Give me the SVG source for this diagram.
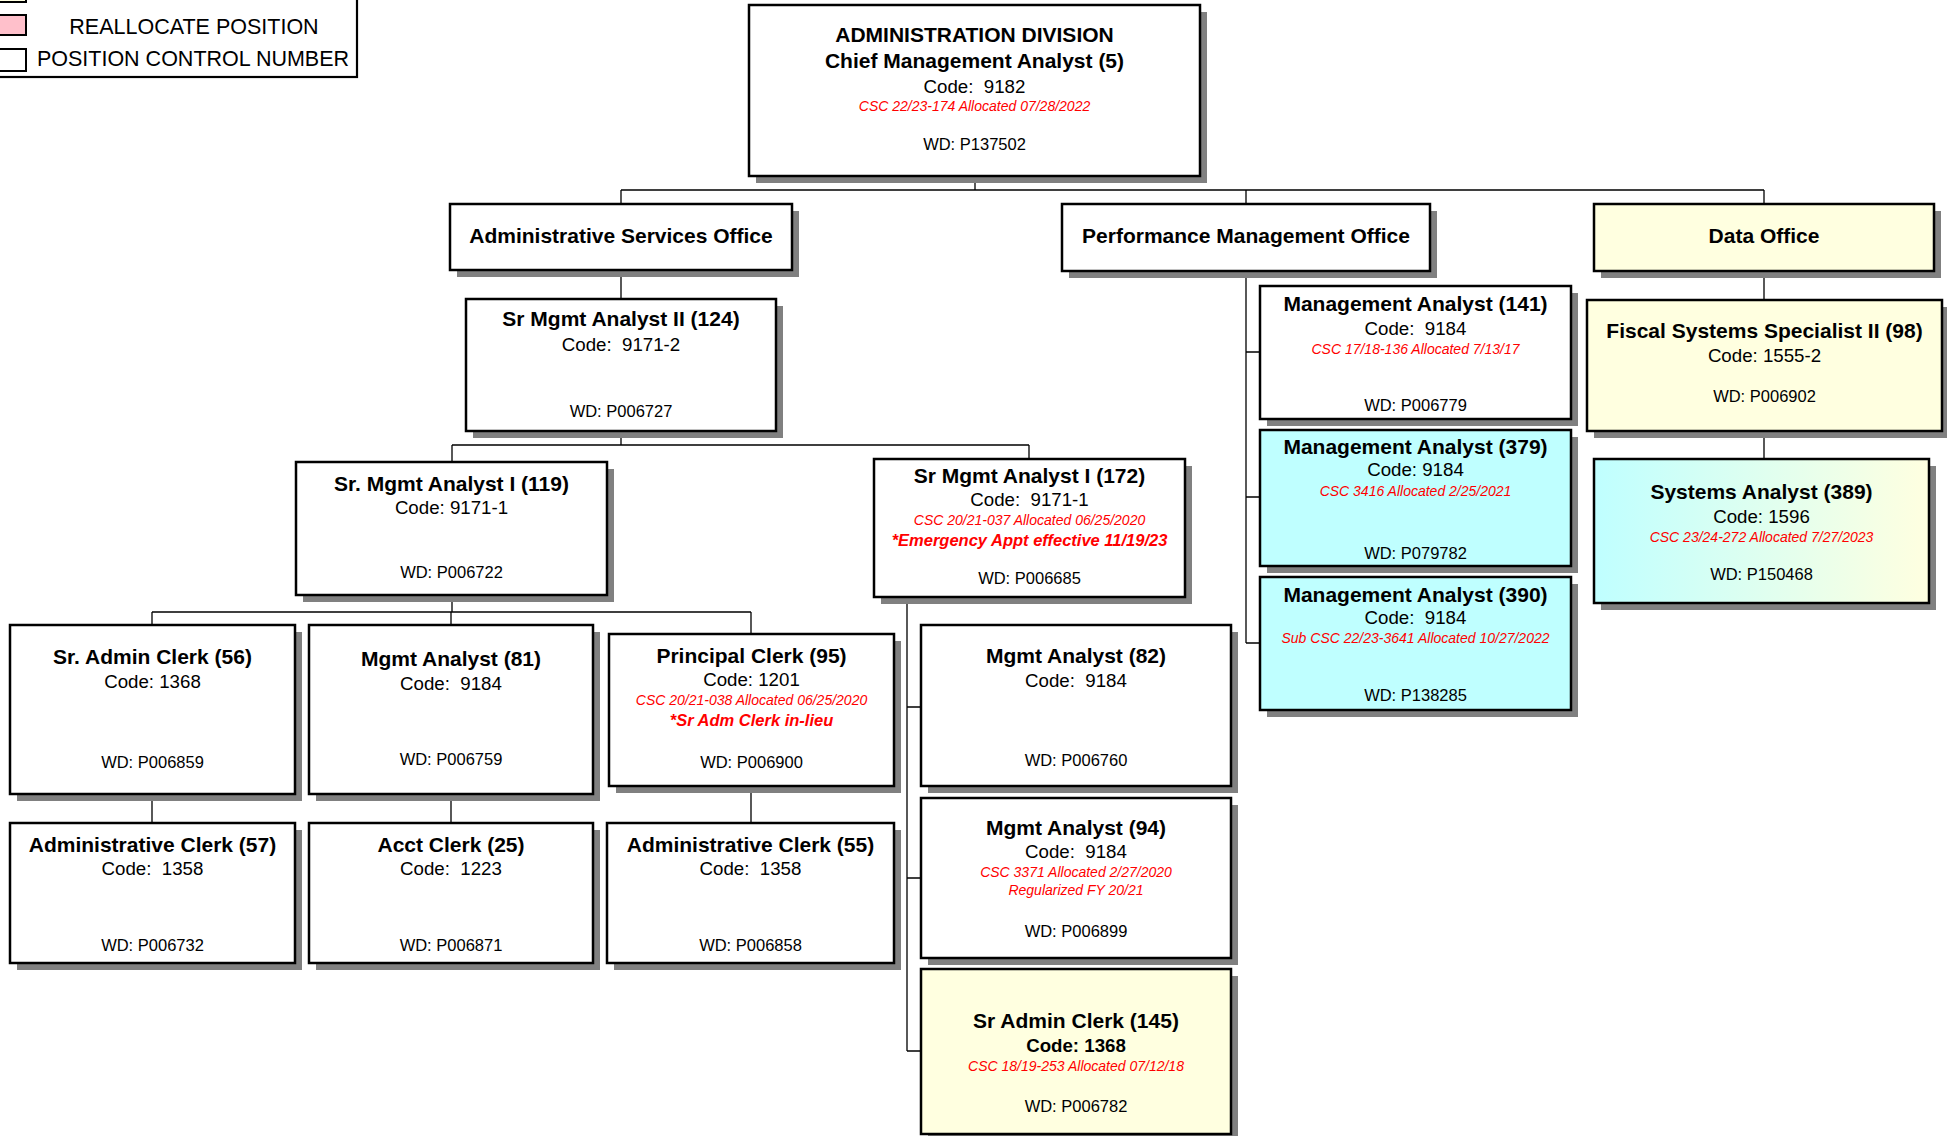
<svg xmlns="http://www.w3.org/2000/svg" width="1947" height="1136" viewBox="0 0 1947 1136">
  <defs>
    <linearGradient id="cyanToYellow" x1="0" y1="0" x2="1" y2="0">
      <stop offset="0" stop-color="#BFFFFF"/>
      <stop offset="1" stop-color="#FFFFE0"/>
    </linearGradient>
  </defs>
  <style>
    text { font-family: "Liberation Sans", Arial, sans-serif; text-anchor: middle; white-space: pre; fill: #000; }
    .shadow { fill: #808080; }
    .box { fill: #FFFFFF; stroke: #000; stroke-width: 2.5; }
    .yellow { fill: #FFFFE0; }
    .cyan { fill: #BFFFFF; }
    .grad { fill: url(#cyanToYellow); }
    .title { font-size: 21px; font-weight: bold; }
    .code { font-size: 18.7px; }
    .codeb { font-size: 18.7px; font-weight: bold; }
    .csc { font-size: 14px; font-style: italic; fill: #FF0000; }
    .note { font-size: 16.5px; font-style: italic; font-weight: bold; fill: #FF0000; }
    .wd { font-size: 16.5px; }
    .legend { font-size: 21.5px; }
    .wire { fill: none; stroke: #000; stroke-width: 1.3; }
  </style>

  <!-- legend -->
  <g id="legend">
    <rect x="-10" y="-40" width="367" height="117" fill="#FFFFFF" stroke="#000" stroke-width="2.2"/>
    <rect x="-10" y="-20" width="36" height="22" fill="#FFFFE0" stroke="#000" stroke-width="2"/>
    <rect x="-10" y="15" width="36" height="20" fill="#FFC0CB" stroke="#000" stroke-width="2"/>
    <rect x="-10" y="49" width="36" height="22" fill="#FFFFFF" stroke="#000" stroke-width="2"/>
    <text class="legend" x="194" y="34">REALLOCATE POSITION</text>
    <text class="legend" x="193" y="66">POSITION CONTROL NUMBER</text>
  </g>

  <!-- reporting lines -->
  <g id="connectors">
    <path class="wire" d="M975 176 V190 M621 190 H1764 M621 190 V204 M1246 190 V204 M1764 190 V204"/>
    <path class="wire" d="M621 270 V299 M621 431 V445 M452 445 H1029 M452 445 V462 M1029 445 V459"/>
    <path class="wire" d="M452 595 V612 M152 612 H751 M152 612 V625 M451 612 V625 M751 612 V634"/>
    <path class="wire" d="M152 794 V823 M451 794 V823 M751 786 V823"/>
    <path class="wire" d="M907 597 V1051 M907 707 H921 M907 878 H921 M907 1051 H921"/>
    <path class="wire" d="M1246 271 V643 M1246 352 H1260 M1246 497 H1260 M1246 643 H1260"/>
    <path class="wire" d="M1764 271 V300 M1764 431 V459"/>
  </g>

  <!-- division head -->
  <g id="node-admin-division">
    <rect class="shadow" x="756" y="12" width="451" height="171"/>
    <rect class="box" x="749" y="5" width="451" height="171"/>
    <text class="title" x="974.5" y="42">ADMINISTRATION DIVISION</text>
    <text class="title" x="974.5" y="68">Chief Management Analyst (5)</text>
    <text class="code" x="974.5" y="93">Code:  9182</text>
    <text class="csc" x="974.5" y="111">CSC 22/23-174 Allocated 07/28/2022</text>
    <text class="wd" x="974.5" y="150">WD: P137502</text>
  </g>

  <!-- offices -->
  <g id="node-admin-services">
    <rect class="shadow" x="457" y="211" width="342" height="66"/>
    <rect class="box" x="450" y="204" width="342" height="66"/>
    <text class="title" x="621" y="243">Administrative Services Office</text>
  </g>
  <g id="node-performance-mgmt">
    <rect class="shadow" x="1069" y="211" width="368" height="67"/>
    <rect class="box" x="1062" y="204" width="368" height="67"/>
    <text class="title" x="1246" y="243">Performance Management Office</text>
  </g>
  <g id="node-data-office">
    <rect class="shadow" x="1601" y="211" width="340" height="67"/>
    <rect class="box yellow" x="1594" y="204" width="340" height="67"/>
    <text class="title" x="1764" y="243">Data Office</text>
  </g>

  <!-- administrative services -->
  <g id="node-124">
    <rect class="shadow" x="473" y="306" width="310" height="132"/>
    <rect class="box" x="466" y="299" width="310" height="132"/>
    <text class="title" x="621" y="326">Sr Mgmt Analyst II (124)</text>
    <text class="code" x="621" y="351">Code:  9171-2</text>
    <text class="wd" x="621" y="417">WD: P006727</text>
  </g>
  <g id="node-119">
    <rect class="shadow" x="303" y="469" width="311" height="133"/>
    <rect class="box" x="296" y="462" width="311" height="133"/>
    <text class="title" x="451.5" y="491">Sr. Mgmt Analyst I (119)</text>
    <text class="code" x="451.5" y="514">Code: 9171-1</text>
    <text class="wd" x="451.5" y="578">WD: P006722</text>
  </g>
  <g id="node-172">
    <rect class="shadow" x="881" y="466" width="311" height="138"/>
    <rect class="box" x="874" y="459" width="311" height="138"/>
    <text class="title" x="1029.5" y="483">Sr Mgmt Analyst I (172)</text>
    <text class="code" x="1029.5" y="506">Code:  9171-1</text>
    <text class="csc" x="1029.5" y="525">CSC 20/21-037 Allocated 06/25/2020</text>
    <text class="note" x="1029.5" y="546">*Emergency Appt effective 11/19/23</text>
    <text class="wd" x="1029.5" y="584">WD: P006685</text>
  </g>
  <g id="node-56">
    <rect class="shadow" x="17" y="632" width="285" height="169"/>
    <rect class="box" x="10" y="625" width="285" height="169"/>
    <text class="title" x="152.5" y="664">Sr. Admin Clerk (56)</text>
    <text class="code" x="152.5" y="688">Code: 1368</text>
    <text class="wd" x="152.5" y="768">WD: P006859</text>
  </g>
  <g id="node-81">
    <rect class="shadow" x="316" y="632" width="284" height="169"/>
    <rect class="box" x="309" y="625" width="284" height="169"/>
    <text class="title" x="451" y="666">Mgmt Analyst (81)</text>
    <text class="code" x="451" y="690">Code:  9184</text>
    <text class="wd" x="451" y="765">WD: P006759</text>
  </g>
  <g id="node-95">
    <rect class="shadow" x="616" y="641" width="285" height="152"/>
    <rect class="box" x="609" y="634" width="285" height="152"/>
    <text class="title" x="751.5" y="663">Principal Clerk (95)</text>
    <text class="code" x="751.5" y="686">Code: 1201</text>
    <text class="csc" x="751.5" y="705">CSC 20/21-038 Allocated 06/25/2020</text>
    <text class="note" x="751.5" y="726">*Sr Adm Clerk in-lieu</text>
    <text class="wd" x="751.5" y="768">WD: P006900</text>
  </g>
  <g id="node-57">
    <rect class="shadow" x="17" y="830" width="285" height="140"/>
    <rect class="box" x="10" y="823" width="285" height="140"/>
    <text class="title" x="152.5" y="852">Administrative Clerk (57)</text>
    <text class="code" x="152.5" y="875">Code:  1358</text>
    <text class="wd" x="152.5" y="951">WD: P006732</text>
  </g>
  <g id="node-25">
    <rect class="shadow" x="316" y="830" width="284" height="140"/>
    <rect class="box" x="309" y="823" width="284" height="140"/>
    <text class="title" x="451" y="852">Acct Clerk (25)</text>
    <text class="code" x="451" y="875">Code:  1223</text>
    <text class="wd" x="451" y="951">WD: P006871</text>
  </g>
  <g id="node-55">
    <rect class="shadow" x="614" y="830" width="287" height="140"/>
    <rect class="box" x="607" y="823" width="287" height="140"/>
    <text class="title" x="750.5" y="852">Administrative Clerk (55)</text>
    <text class="code" x="750.5" y="875">Code:  1358</text>
    <text class="wd" x="750.5" y="951">WD: P006858</text>
  </g>
  <g id="node-82">
    <rect class="shadow" x="928" y="632" width="310" height="161"/>
    <rect class="box" x="921" y="625" width="310" height="161"/>
    <text class="title" x="1076" y="663">Mgmt Analyst (82)</text>
    <text class="code" x="1076" y="687">Code:  9184</text>
    <text class="wd" x="1076" y="766">WD: P006760</text>
  </g>
  <g id="node-94">
    <rect class="shadow" x="928" y="805" width="310" height="160"/>
    <rect class="box" x="921" y="798" width="310" height="160"/>
    <text class="title" x="1076" y="835">Mgmt Analyst (94)</text>
    <text class="code" x="1076" y="858">Code:  9184</text>
    <text class="csc" x="1076" y="877">CSC 3371 Allocated 2/27/2020</text>
    <text class="csc" x="1076" y="895">Regularized FY 20/21</text>
    <text class="wd" x="1076" y="937">WD: P006899</text>
  </g>
  <g id="node-145">
    <rect class="shadow" x="928" y="976" width="310" height="165"/>
    <rect class="box yellow" x="921" y="969" width="310" height="165"/>
    <text class="title" x="1076" y="1028">Sr Admin Clerk (145)</text>
    <text class="codeb" x="1076" y="1052">Code: 1368</text>
    <text class="csc" x="1076" y="1071">CSC 18/19-253 Allocated 07/12/18</text>
    <text class="wd" x="1076" y="1112">WD: P006782</text>
  </g>

  <!-- performance management -->
  <g id="node-141">
    <rect class="shadow" x="1267" y="293" width="311" height="133"/>
    <rect class="box" x="1260" y="286" width="311" height="133"/>
    <text class="title" x="1415.5" y="311">Management Analyst (141)</text>
    <text class="code" x="1415.5" y="335">Code:  9184</text>
    <text class="csc" x="1415.5" y="354">CSC 17/18-136 Allocated 7/13/17</text>
    <text class="wd" x="1415.5" y="411">WD: P006779</text>
  </g>
  <g id="node-379">
    <rect class="shadow" x="1267" y="437" width="311" height="136"/>
    <rect class="box cyan" x="1260" y="430" width="311" height="136"/>
    <text class="title" x="1415.5" y="454">Management Analyst (379)</text>
    <text class="code" x="1415.5" y="476">Code: 9184</text>
    <text class="csc" x="1415.5" y="496">CSC 3416 Allocated 2/25/2021</text>
    <text class="wd" x="1415.5" y="559">WD: P079782</text>
  </g>
  <g id="node-390">
    <rect class="shadow" x="1267" y="584" width="311" height="133"/>
    <rect class="box cyan" x="1260" y="577" width="311" height="133"/>
    <text class="title" x="1415.5" y="602">Management Analyst (390)</text>
    <text class="code" x="1415.5" y="624">Code:  9184</text>
    <text class="csc" x="1415.5" y="643">Sub CSC 22/23-3641 Allocated 10/27/2022</text>
    <text class="wd" x="1415.5" y="701">WD: P138285</text>
  </g>

  <!-- data office -->
  <g id="node-98">
    <rect class="shadow" x="1594" y="307" width="355" height="131"/>
    <rect class="box yellow" x="1587" y="300" width="355" height="131"/>
    <text class="title" x="1764.5" y="338">Fiscal Systems Specialist II (98)</text>
    <text class="code" x="1764.5" y="362">Code: 1555-2</text>
    <text class="wd" x="1764.5" y="402">WD: P006902</text>
  </g>
  <g id="node-389">
    <rect class="shadow" x="1601" y="466" width="335" height="144"/>
    <rect class="box grad" x="1594" y="459" width="335" height="144"/>
    <text class="title" x="1761.5" y="499">Systems Analyst (389)</text>
    <text class="code" x="1761.5" y="523">Code: 1596</text>
    <text class="csc" x="1761.5" y="542">CSC 23/24-272 Allocated 7/27/2023</text>
    <text class="wd" x="1761.5" y="580">WD: P150468</text>
  </g>
</svg>
